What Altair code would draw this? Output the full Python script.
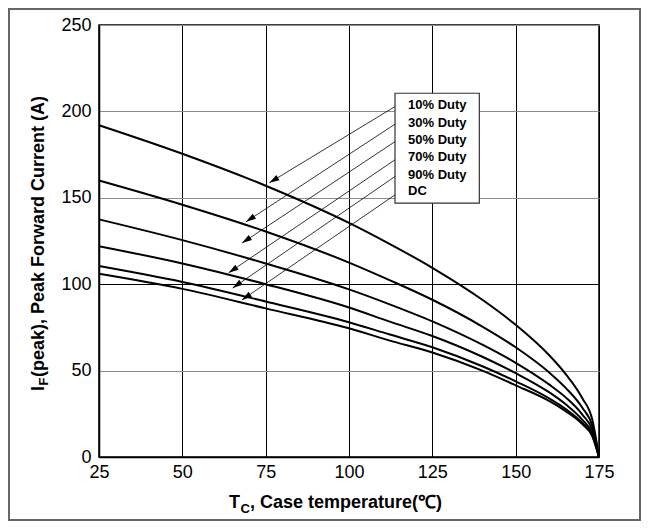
import math
import altair as alt
import pandas as pd

# ---------------- data ----------------
temps = [25, 50, 75, 100, 112, 125, 140, 150, 160, 165, 170, 173, 175]
duty10 = [192, 175.5, 157, 135.5, 123.5, 109.5, 91, 76.5, 59, 48, 34, 21.5, 0]
duty30 = [160, 146, 130.5, 112.5, 102.5, 91, 75.5, 63.5, 49, 40, 28.5, 18, 0]
duty50 = [137.5, 125.5, 112, 97, 88.5, 78.5, 65, 54.5, 42, 34.5, 24.5, 15.5, 0]
duty70 = [122, 112, 100, 86.5, 78.5, 70, 58, 48.5, 37.5, 30.5, 21.5, 13.5, 0]
duty90 = [110.5, 101.3, 90, 78, 71, 63.5, 52.5, 43.8, 34, 27.8, 19.7, 12.5, 0]
dutyDC = [106, 97.3, 86, 74.5, 67.5, 60.5, 50, 41.5, 32.5, 26.5, 19, 12, 0]
series_names = ["10% Duty", "30% Duty", "50% Duty", "70% Duty", "90% Duty", "DC"]

x_ticks = [25, 50, 75, 100, 125, 150, 175]
y_ticks = [0, 50, 100, 150, 200, 250]

# annotation box and arrows (data coordinates)
box_T = [113.8, 139.1]
box_A = [146.9, 210.5]
label_T = 117.7
label_A = [203.6, 193.5, 183.5, 173.5, 163.4, 153.9]
arrow_start_T = [113.8, 113.8, 113.8, 113.8, 113.8, 113.8]
arrow_start_A = [202.8, 192.6, 182.5, 172.0, 162.3, 151.7]
arrow_tip_T = [76.1, 69.1, 67.9, 63.9, 65.1, 67.9]
arrow_tip_A = [158.7, 136.1, 123.8, 106.6, 97.8, 90.9]

x_title_parts = ["T", "C", ", Case temperature(℃)"]
y_title_parts = ["I", "F", "(peak), Peak Forward Current (A)"]

# ---------------- layout ----------------
W, H = 500, 432
XD = [25, 175]
YD = [0, 250]
FONT = "Liberation Sans"

rows = []
for name, vals in zip(series_names, [duty10, duty30, duty50, duty70, duty90, dutyDC]):
    for t, v in zip(temps, vals):
        rows.append({"T": t, "A": v, "series": name})
curves_df = pd.DataFrame(rows)

px_per_T = W / (XD[1] - XD[0])
px_per_A = H / (YD[1] - YD[0])
angles = []
for ts, as_, tt, at in zip(arrow_start_T, arrow_start_A, arrow_tip_T, arrow_tip_A):
    dx = (tt - ts) * px_per_T
    dy = -(at - as_) * px_per_A
    angles.append(math.degrees(math.atan2(dx, -dy)) % 360)
arrows_df = pd.DataFrame({"T1": arrow_start_T, "A1": arrow_start_A,
                          "T2": arrow_tip_T, "A2": arrow_tip_A, "ang": angles})
labels_df = pd.DataFrame({"T": [label_T] * len(series_names), "A": label_A, "label": series_names})
box_df = pd.DataFrame({"T1": [box_T[0]], "T2": [box_T[1]], "A1": [box_A[0]], "A2": [box_A[1]]})

xscale = alt.Scale(domain=XD, nice=False, zero=False)
yscale = alt.Scale(domain=YD, nice=False, zero=False)

x_axis = alt.Axis(values=x_ticks, title=None, ticks=False, grid=True, gridColor="#000",
                  gridWidth=1, domainColor="#000", domainWidth=1.5, labelFont=FONT,
                  labelFontSize=18, labelColor="#000", labelPadding=6, labelFlush=False)
y_axis = alt.Axis(values=y_ticks, title=None, ticks=False, grid=True,
                  gridColor={"condition": {"test": "datum.value === 100", "value": "#000"}, "value": "#8c8c8c"},
                  gridWidth=1, domainColor="#000", domainWidth=1.5, labelFont=FONT,
                  labelFontSize=18, labelColor="#000", labelPadding=8, labelFlush=False)

curves = alt.Chart(curves_df).mark_line(color="black", strokeWidth=2, interpolate="monotone").encode(
    x=alt.X("T:Q", scale=xscale, axis=x_axis),
    y=alt.Y("A:Q", scale=yscale, axis=y_axis),
    detail="series:N",
)

box = alt.Chart(box_df).mark_rect(fill="white", stroke="#333", strokeWidth=1.2).encode(
    x=alt.X("T1:Q", scale=xscale), x2="T2:Q",
    y=alt.Y("A1:Q", scale=yscale), y2="A2:Q",
)

labels = alt.Chart(labels_df).mark_text(align="left", baseline="middle", font=FONT,
                                        fontSize=13, fontWeight="bold", color="black").encode(
    x=alt.X("T:Q", scale=xscale), y=alt.Y("A:Q", scale=yscale), text="label:N",
)

arrow_lines = alt.Chart(arrows_df).mark_rule(color="black", strokeWidth=0.8).encode(
    x=alt.X("T1:Q", scale=xscale), x2="T2:Q",
    y=alt.Y("A1:Q", scale=yscale), y2="A2:Q",
)

arrow_heads = alt.Chart(arrows_df).mark_point(shape="M0,0 L-0.6,2 L0.6,2 Z", filled=True,
                                              size=100, color="black", opacity=1).encode(
    x=alt.X("T2:Q", scale=xscale), y=alt.Y("A2:Q", scale=yscale),
    angle=alt.Angle("ang:Q", scale=None),
)

one = pd.DataFrame({"k": [0]})
border = alt.Chart(one).mark_rect(fill=None, stroke="#666", strokeWidth=2).encode(
    x=alt.value(-90), x2=alt.value(W + 41), y=alt.value(-16), y2=alt.value(H + 63),
)

def txt(s, x, y, size, **kw):
    return alt.Chart(pd.DataFrame({"s": [s]})).mark_text(
        font=FONT, fontSize=size, fontWeight="bold", color="black", **kw
    ).encode(x=alt.value(x), y=alt.value(y), text="s:N")

xt1 = txt(x_title_parts[0], 141, 483, 18, align="right", baseline="alphabetic")
xt2 = txt(x_title_parts[1], 141.5, 488, 13, align="left", baseline="alphabetic")
xt3 = txt(x_title_parts[2], 151, 483, 18, align="left", baseline="alphabetic")

yt1 = txt(y_title_parts[0], -55.5, 366, 18, align="left", baseline="alphabetic", angle=270)
yt2 = txt(y_title_parts[1], -51.5, 360.5, 13, align="left", baseline="alphabetic", angle=270)
yt3 = txt(y_title_parts[2], -55.5, 352, 18, align="left", baseline="alphabetic", angle=270)

chart = alt.layer(
    border, curves, box, labels, arrow_lines, arrow_heads,
    xt1, xt2, xt3, yt1, yt2, yt3,
).properties(
    width=W, height=H,
    autosize=alt.AutoSizeParams(type="none"),
    padding={"left": 91, "top": 17, "right": 42, "bottom": 64},
).configure_view(stroke="black", strokeWidth=1.5)

chart.save("out.html", embed_options={"renderer": "svg", "actions": False})
